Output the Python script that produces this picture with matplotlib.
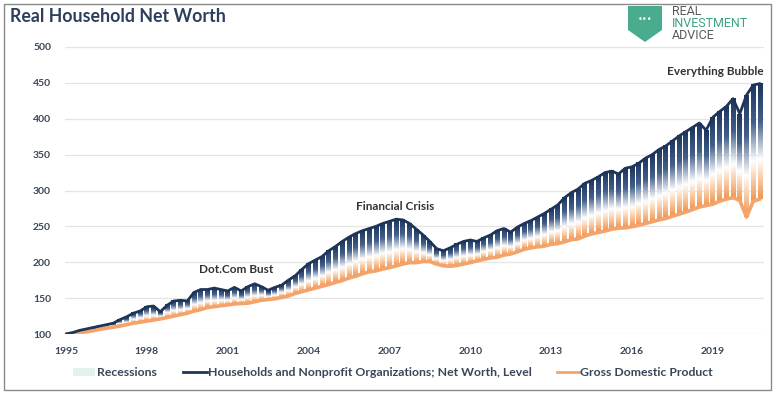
import numpy as np
import matplotlib
matplotlib.use('Agg')
from matplotlib import pyplot as plt
from matplotlib.colors import LinearSegmentedColormap
from matplotlib.patches import Rectangle, Polygon
from matplotlib.lines import Line2D

# quarterly values, 1995Q1 = 100
net_worth = [100, 102, 105, 107,
             109, 111, 113, 115,
             120, 124, 129, 132,
             138, 139, 131, 140,
             146, 147, 146, 158,
             162, 162, 164, 162,
             160, 165, 160, 166,
             170, 166, 161, 165,
             168, 175, 181, 190,
             198, 203, 208, 216,
             222, 229, 235, 240,
             244, 247, 250, 254,
             257, 260, 259, 254,
             246, 238, 229, 219,
             216, 220, 225, 229,
             231, 229, 234, 238,
             244, 247, 242, 249,
             254, 258, 263, 268,
             274, 280, 290, 297,
             302, 310, 314, 319,
             325, 327, 323, 331,
             333, 338, 345, 350,
             357, 362, 369, 376,
             382, 388, 394, 384,
             402, 410, 417, 428,
             407, 433, 447, 449]

gdp = [100, 101, 102, 103,
       104.5, 106.5, 108, 109.5,
       111, 113, 115, 116.5,
       118, 119.5, 121, 123,
       125, 127, 129, 132,
       134, 137, 138, 139.5,
       140.5, 142, 142.5, 143,
       145, 147, 148, 149,
       151, 153, 156.5, 159,
       161.5, 164, 166.5, 169,
       172, 174.5, 178, 180.5,
       184, 186.5, 188, 190.5,
       192.5, 195, 197.5, 199.5,
       199.5, 201, 201, 197.5,
       195, 194.5, 195.5, 197.5,
       199.5, 202, 204, 206,
       207, 210, 211.5, 214.5,
       218, 220, 221.5, 222.5,
       225, 226, 228.5, 231.5,
       232.5, 236.5, 239.5, 241.5,
       243.5, 246, 247.5, 248,
       249.5, 251.5, 254, 256.5,
       259, 261, 264, 267,
       270, 273.5, 277, 279,
       281, 285, 288, 290,
       286, 263, 285, 288]

tick_years = [1995, 1998, 2001, 2004, 2007, 2010, 2013, 2016, 2019]
y_ticks = [100, 150, 200, 250, 300, 350, 400, 450, 500]

quarters = 1995 + np.arange(len(net_worth)) / 4.0

navy = '#1f3558'
orange = '#f4a36a'
txt_col = '#3a4658'

cmap = LinearSegmentedColormap.from_list('band', [(0, '#1d365f'), (0.33, '#43608b'),
                                                  (0.66, '#ffffff'), (0.82, '#f9cda8'),
                                                  (1, '#f09550')])
grad = np.linspace(0, 1, 120).reshape(-1, 1)

fig = plt.figure(figsize=(7.81, 3.95), dpi=100)
W, H = 781.0, 395.0

# outer frame
fig.patches.append(Rectangle((4 / W, 1 - 390 / H), 767 / W, 386 / H, transform=fig.transFigure,
                             fill=False, edgecolor='#8a8a8a', linewidth=1))

ax = fig.add_axes([65 / W, 1 - 334 / H, (764 - 65) / W, (334 - 47) / H])

# gradient bars between the two series
bw = 0.25 * 0.72
for x, top, bot in zip(quarters, net_worth, gdp):
    ax.imshow(grad, extent=[x - bw / 2, x + bw / 2, bot, top], aspect='auto', cmap=cmap,
              interpolation='bilinear', zorder=2)

ax.plot(quarters, gdp, color=orange, lw=2.6, zorder=3, solid_capstyle='round')
ax.plot(quarters, net_worth, color=navy, lw=2.0, zorder=4, solid_capstyle='round')

ax.set_xlim(1995 - 1 / 26.95, 2020.75 + 4 / 26.95)
ax.set_ylim(100, 500)
ax.set_yticks(y_ticks)
ax.set_xticks(tick_years)
ax.grid(axis='y', color='#e4e4e4', lw=0.9, zorder=0)
ax.set_axisbelow(True)
for s in ax.spines.values():
    s.set_visible(False)
ax.tick_params(axis='y', length=0, pad=10, labelsize=7.5, labelcolor=txt_col)
ax.tick_params(axis='x', length=0, pad=9, labelsize=7.5, labelcolor=txt_col)
for lab in ax.get_xticklabels() + ax.get_yticklabels():
    lab.set_fontweight('bold')
    lab.set_family('Lato')

# annotations
ax.text(2001.3, 190, 'Dot.Com Bust', ha='center', va='center', fontsize=8.5,
        fontweight='bold', family='Lato', color='#333333')
ax.text(2007.2, 278, 'Financial Crisis', ha='center', va='center', fontsize=8.5,
        fontweight='bold', family='Lato', color='#333333')
ax.text(2019.1, 466, 'Everything Bubble', ha='center', va='center', fontsize=8.5,
        fontweight='bold', family='Lato', color='#333333')

# title
fig.text(10 / W, 1 - 17 / H, 'Real Household Net Worth', ha='left', va='center', fontsize=12.8,
         fontweight='bold', family='Lato', color='#2c3e5c')

# logo
shield = Polygon([(628 / W, 1 - 6 / H), (662 / W, 1 - 6 / H), (662 / W, 1 - 30 / H),
                  (645 / W, 1 - 42 / H), (628 / W, 1 - 30 / H)], closed=True,
                 transform=fig.transFigure, facecolor='#4aab8f', edgecolor='none')
fig.patches.append(shield)
fig.text(645 / W, 1 - 20 / H, '•••', ha='center', va='center', fontsize=6, color='white')
fig.text(672 / W, 1 - 11.5 / H, 'REAL', ha='left', va='center', fontsize=9, color='#5a5a5a',
         family='Roboto')
fig.text(672 / W, 1 - 23.5 / H, 'INVESTMENT', ha='left', va='center', fontsize=9, color='#3fa386',
         family='Roboto')
fig.text(672 / W, 1 - 35.5 / H, 'ADVICE', ha='left', va='center', fontsize=9, color='#5a5a5a',
         family='Roboto')

# legend
ly = 1 - 372 / H
fs_leg = 8.8
fig.patches.append(Rectangle((73 / W, ly - 4 / H), 22 / W, 8 / H, transform=fig.transFigure,
                             facecolor='#e3f2ec', edgecolor='none'))
fig.text(97 / W, ly, 'Recessions', ha='left', va='center', fontsize=fs_leg, fontweight='bold',
         family='Lato', color=txt_col)
fig.lines.append(Line2D([183 / W, 207 / W], [ly, ly], transform=fig.transFigure, color=navy, lw=2))
fig.text(208 / W, ly, 'Households and Nonprofit Organizations; Net Worth, Level', ha='left',
         va='center', fontsize=fs_leg, fontweight='bold', family='Lato', color=txt_col)
fig.lines.append(Line2D([557 / W, 579 / W], [ly, ly], transform=fig.transFigure, color=orange, lw=2))
fig.text(580 / W, ly, 'Gross Domestic Product', ha='left', va='center', fontsize=fs_leg,
         fontweight='bold', family='Lato', color=txt_col)

fig.savefig('out.png', dpi=100)
